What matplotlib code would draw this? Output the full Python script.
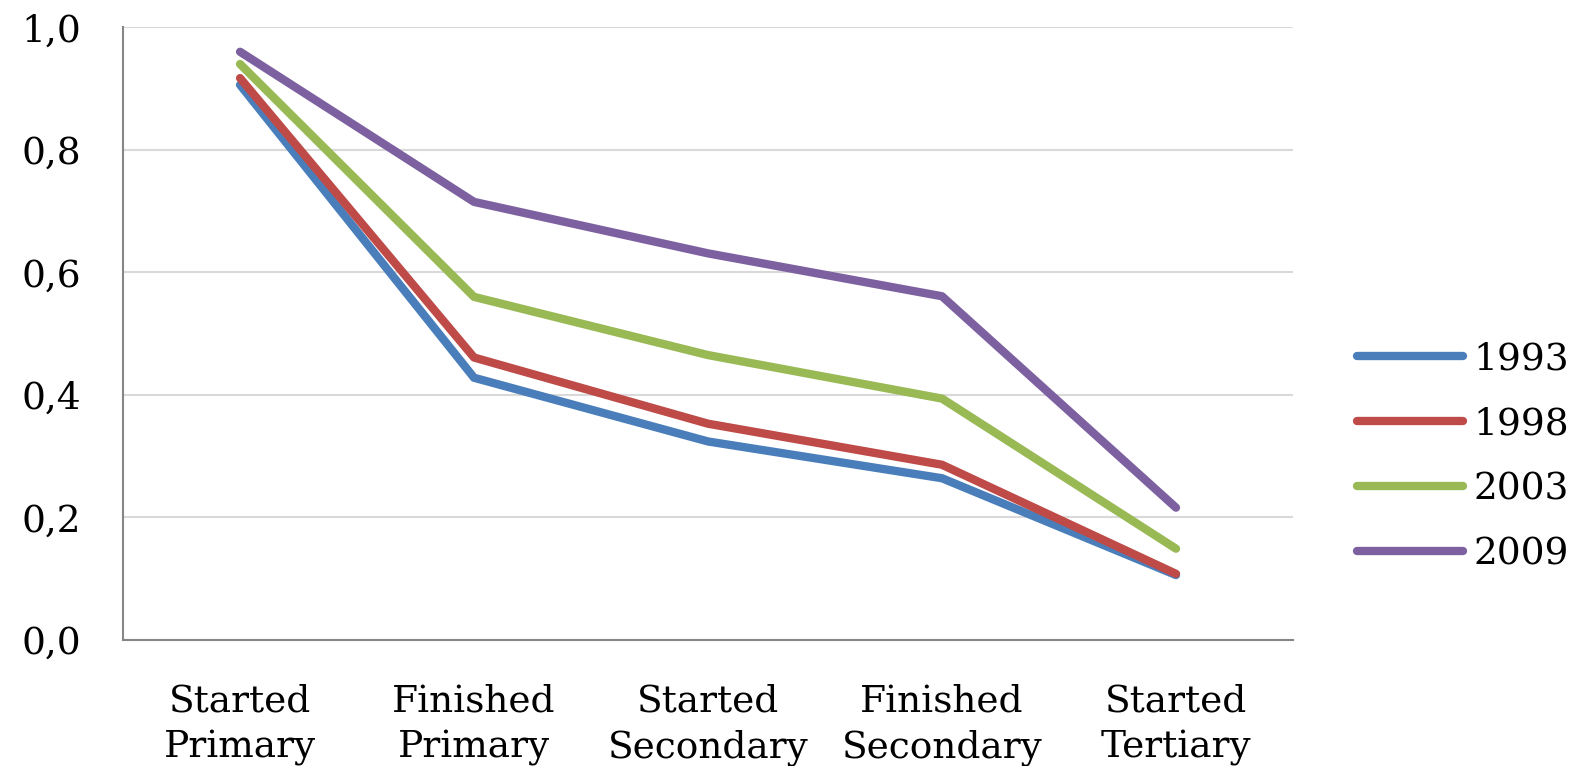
import matplotlib
matplotlib.use("Agg")
import matplotlib.pyplot as plt
from matplotlib.ticker import FuncFormatter

categories = ["Started\nPrimary", "Finished\nPrimary", "Started\nSecondary",
              "Finished\nSecondary", "Started\nTertiary"]
years = ["1993", "1998", "2003", "2009"]
v1993 = [0.906, 0.428, 0.324, 0.264, 0.106]
v1998 = [0.917, 0.461, 0.353, 0.286, 0.108]
v2003 = [0.940, 0.560, 0.465, 0.394, 0.149]
v2009 = [0.960, 0.715, 0.631, 0.561, 0.216]
y_ticks = [0.0, 0.2, 0.4, 0.6, 0.8, 1.0]

series = [v1993, v1998, v2003, v2009]
colors = ["#4A7EBB", "#BE4B48", "#98B954", "#7D60A0"]

plt.rcParams["font.family"] = ["DejaVu Serif"]
FS = 27

fig = plt.figure(figsize=(15.82, 7.66), dpi=100)
ax = fig.add_axes([0.0778, 0.1645, 0.7395, 0.7999])

x = list(range(len(categories)))
for vals, lab, col in zip(series, years, colors):
    ax.plot(x, vals, color=col, lw=6, label=lab, solid_capstyle="round",
            solid_joinstyle="round")

ax.set_xlim(-0.5, len(categories) - 0.5)
ax.set_ylim(0, 1.0)
ax.set_yticks(y_ticks)
ax.yaxis.set_major_formatter(FuncFormatter(lambda v, p: f"{v:.1f}".replace(".", ",")))
ax.set_xticks(x)
ax.set_xticklabels(categories, fontsize=FS, linespacing=1.38)
ax.tick_params(axis="y", labelsize=FS, length=0, pad=30)
ax.tick_params(axis="x", length=0, pad=31)

ax.grid(axis="y", color="#D9D9D9", lw=1.5)
ax.set_axisbelow(True)
for s in ["top", "right"]:
    ax.spines[s].set_visible(False)
for s in ["left", "bottom"]:
    ax.spines[s].set_color("#868686")
    ax.spines[s].set_linewidth(1.5)

leg = ax.legend(loc="center left", bbox_to_anchor=(1.055, 0.299), frameon=False,
                fontsize=FS, handlelength=2.83, handletextpad=0.27, labelspacing=0.77,
                borderaxespad=0, borderpad=0)

fig.savefig("out.png", dpi=100, facecolor="white")
